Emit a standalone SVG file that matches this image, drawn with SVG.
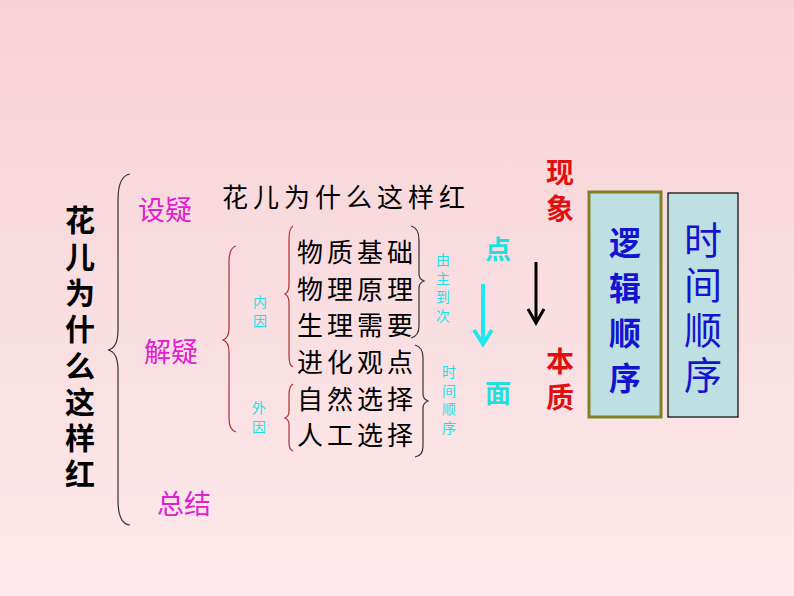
<svg xmlns="http://www.w3.org/2000/svg" width="794" height="596" viewBox="0 0 794 596">
<defs>
<linearGradient id="bg" x1="0" y1="0" x2="0" y2="1"><stop offset="0" stop-color="#f6d2d6"/><stop offset="1" stop-color="#fde9eb"/></linearGradient>
<style>
text{font-family:"Noto Sans CJK SC","Noto Sans CJK JP",sans-serif;text-anchor:middle;dominant-baseline:central}
.v{writing-mode:vertical-rl;text-anchor:start}
.t{font-size:30px;font-weight:bold;letter-spacing:6.3px}
.br{fill:none;stroke:#333;stroke-width:1.2}
.rb{fill:none;stroke:#a33;stroke-width:1.2}
.mg{fill:#e020d0;font-size:27px}
.it{fill:#000;font-size:26px;letter-spacing:4px}
.cy{fill:#1ee0e0;font-size:14px;letter-spacing:4.5px}
.rd{fill:#e01010;font-size:28px;font-weight:bold;letter-spacing:8px}
.b1{font-size:32px;font-weight:bold;fill:#1414d0;letter-spacing:13px}
.b2{font-size:38px;fill:#1414d0;letter-spacing:7px}
</style>
</defs>
<rect width="794" height="596" fill="url(#bg)"/>
<g id="title"><text class="t v" x="80" y="205">花儿为什么这样红</text></g>
<g id="connectors">
<path class="br" d="M130,174 Q118,176 118,200 L118,330 Q118,348 108,350 Q118,352 118,370 L118,500 Q118,524 130,525"/>
<path class="rb" d="M236,246 Q229,248 229,262 L229,328 Q229,338 223,340 Q229,342 229,352 L229,418 Q229,430 236,432"/>
<path class="rb" d="M293,226 Q289,228 289,240 L289,285 Q289,292 285,294 Q289,296 289,303 L289,355 Q289,366 293,367"/>
<path class="rb" d="M293,384 Q289,386 289,395 L289,412 Q289,416 285,418 Q289,420 289,424 L289,442 Q289,450 293,451"/>
<path class="br" d="M411,226 Q419,228 419,240 L419,274 Q419,279 424,281 Q419,283 419,288 L419,326 Q419,336 411,338"/>
<path class="br" d="M415,345 Q423,347 423,358 L423,394 Q423,399 428,401 Q423,403 423,408 L423,446 Q423,456 415,457"/>
<path d="M483,284 L483,342 M474,330 L483,344 L492,330" stroke="#1ee8ee" stroke-width="4" fill="none"/>
<path d="M536,262 L536,320 M528,309 L536,323 L544,309" stroke="#000" stroke-width="3" fill="none"/>
</g>
<g id="n-sheyi"><text class="mg" x="165" y="208">设疑</text></g>
<g id="n-jieyi"><text class="mg" x="171" y="350">解疑</text></g>
<g id="n-zongjie"><text class="mg" x="184" y="502">总结</text></g>
<g id="n-q"><text x="346" y="195" font-size="26" letter-spacing="5">花儿为什么这样红</text></g>
<g id="n-items">
<text class="it" x="357" y="250">物质基础</text>
<text class="it" x="357" y="287">物理原理</text>
<text class="it" x="357" y="323">生理需要</text>
<text class="it" x="357" y="360">进化观点</text>
<text class="it" x="357" y="397">自然选择</text>
<text class="it" x="357" y="433">人工选择</text>
</g>
<g id="n-neiyin"><text class="cy v" x="260" y="295">内因</text></g>
<g id="n-waiyin"><text class="cy v" x="259" y="401">外因</text></g>
<g id="n-zhuci"><text class="cy v" x="443" y="253">由主到次</text></g>
<g id="n-shijian-s"><text class="cy v" x="449" y="365">时间顺序</text></g>
<g id="n-dian"><text x="498" y="247" font-size="26" font-weight="bold" fill="#1ee0e0">点</text></g>
<g id="n-mian"><text x="498" y="391" font-size="26" font-weight="bold" fill="#1ee0e0">面</text></g>
<g id="n-xx"><text class="rd v" x="560" y="158">现象</text></g>
<g id="n-bz"><text class="rd v" x="560" y="347">本质</text></g>
<g id="n-luoji"><rect x="589" y="192" width="72" height="225" fill="#bfe0e3" stroke="#808025" stroke-width="3"/>
<text class="b1 v" x="625" y="227">逻辑顺序</text></g>
<g id="n-shijian"><rect x="668" y="193" width="70" height="224" fill="#bfe0e3" stroke="#000" stroke-width="1.2"/>
<text class="b2 v" x="703" y="221">时间顺序</text></g>
</svg>
